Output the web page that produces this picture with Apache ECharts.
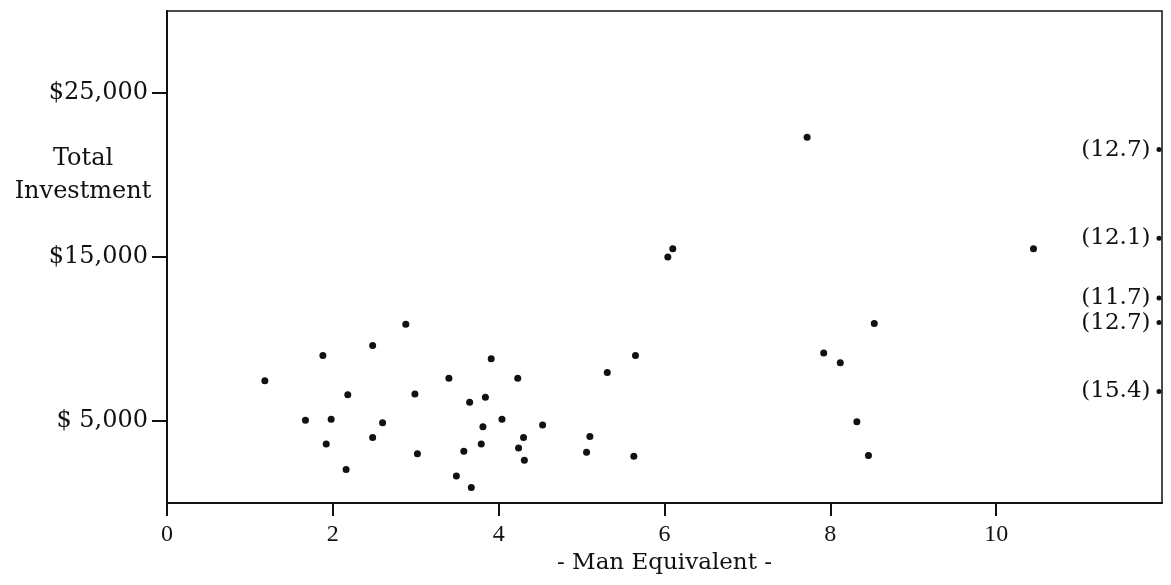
<!DOCTYPE html>
<html><head><meta charset="utf-8">
<script src="https://cdn.jsdelivr.net/npm/echarts@6/dist/echarts.min.js"></script>
<style>html,body{margin:0;padding:0;background:#fff}#c{width:1171px;height:585px}</style>
</head><body><div id="c"></div>
<script>
// Man equivalent (x) and total investment in dollars (y) for each farm
const manEquivalent = [2.88, 2.48, 1.88, 1.18, 3.40, 2.18, 2.99, 1.67, 1.98, 2.60,
  2.48, 1.92, 3.02, 2.16, 3.49, 3.91, 4.23, 3.65, 3.84, 4.04,
  3.81, 4.53, 4.30, 3.79, 4.24, 3.58, 4.31, 3.67, 5.31, 5.65,
  5.10, 5.06, 5.63, 7.72, 6.10, 6.04, 8.53, 7.92, 8.12, 8.32,
  8.46, 10.45];
const totalInvestment = [10900, 9600, 9000, 7450, 7600, 6600, 6650, 5050, 5100, 4900,
  4000, 3600, 3000, 2050, 1650, 8800, 7600, 6150, 6450, 5100,
  4650, 4750, 4000, 3600, 3350, 3150, 2600, 950, 7950, 9000,
  4050, 3100, 2850, 22300, 15500, 15000, 10950, 9150, 8550, 4950,
  2900, 15500];
// Off-scale farms plotted on the right edge, with their man-equivalent in brackets
const offscaleInvestment = [21550, 16150, 12500, 11000, 6800];
const offscaleLabels = ['(12.7)', '(12.1)', '(11.7)', '(12.7)', '(15.4)'];
const xMin = 0, xMax = 12;
const yMin = 0, yMax = 30000;
const xTicks = [0, 2, 4, 6, 8, 10];
const yTicks = [5000, 15000, 25000];
const yTickLabels = ['$ 5,000', '$15,000', '$25,000'];
const xTitle = '- Man Equivalent -';
const yTitle = 'Total\nInvestment';

const ink = '#111';
const serif = 'DejaVu Serif';
const chart = echarts.init(document.getElementById('c'), null, {renderer: 'canvas'});
const mainData = manEquivalent.map((x, i) => [x, totalInvestment[i]]);
const offData = offscaleInvestment.map((y, i) => ({value: [xMax, y], label: {formatter: offscaleLabels[i]}}));
const yLabelMap = {};
yTicks.forEach((v, i) => { yLabelMap[v] = yTickLabels[i]; });

chart.setOption({
  animation: false,
  backgroundColor: '#fff',
  grid: {left: 167, right: 9, top: 11, bottom: 82, containLabel: false, outerBoundsMode: 'none',
    show: true, borderColor: ink, borderWidth: 1.5, backgroundColor: 'transparent'},
  xAxis: {
    type: 'value', min: xMin, max: xMax,
    splitLine: {show: false},
    axisLine: {show: true, onZero: false, lineStyle: {color: ink, width: 2}},
    axisTick: {show: true, inside: false, length: 13, customValues: xTicks, lineStyle: {color: ink, width: 2}},
    axisLabel: {customValues: xTicks, margin: 20, color: ink, fontFamily: 'Liberation Serif', fontSize: 24},
    name: xTitle, nameLocation: 'middle', nameGap: 49,
    nameTextStyle: {color: ink, fontFamily: serif, fontSize: 23}
  },
  yAxis: {
    type: 'value', min: yMin, max: yMax,
    splitLine: {show: false},
    axisLine: {show: true, onZero: false, lineStyle: {color: ink, width: 2}},
    axisTick: {show: true, inside: false, length: 15, customValues: yTicks, lineStyle: {color: ink, width: 2}},
    axisLabel: {customValues: yTicks, margin: 19, color: ink, fontFamily: serif, fontSize: 24,
      formatter: v => yLabelMap[v] || ''}
  },
  graphic: [{
    type: 'text', left: 4, top: 142,
    style: {text: yTitle, fill: ink, font: '24px "DejaVu Serif"', textAlign: 'center', lineHeight: 33, width: 158}
  }],
  series: [{
    type: 'scatter', data: mainData, symbol: 'circle', symbolSize: 7,
    itemStyle: {color: ink, opacity: 1}
  }, {
    type: 'scatter', data: offData, symbol: 'circle', symbolSize: 5, symbolOffset: [-3, 0],
    clip: false, itemStyle: {color: ink, opacity: 1},
    label: {show: true, position: 'left', distance: 6, color: ink, fontFamily: serif, fontSize: 23}
  }]
});
</script></body></html>
